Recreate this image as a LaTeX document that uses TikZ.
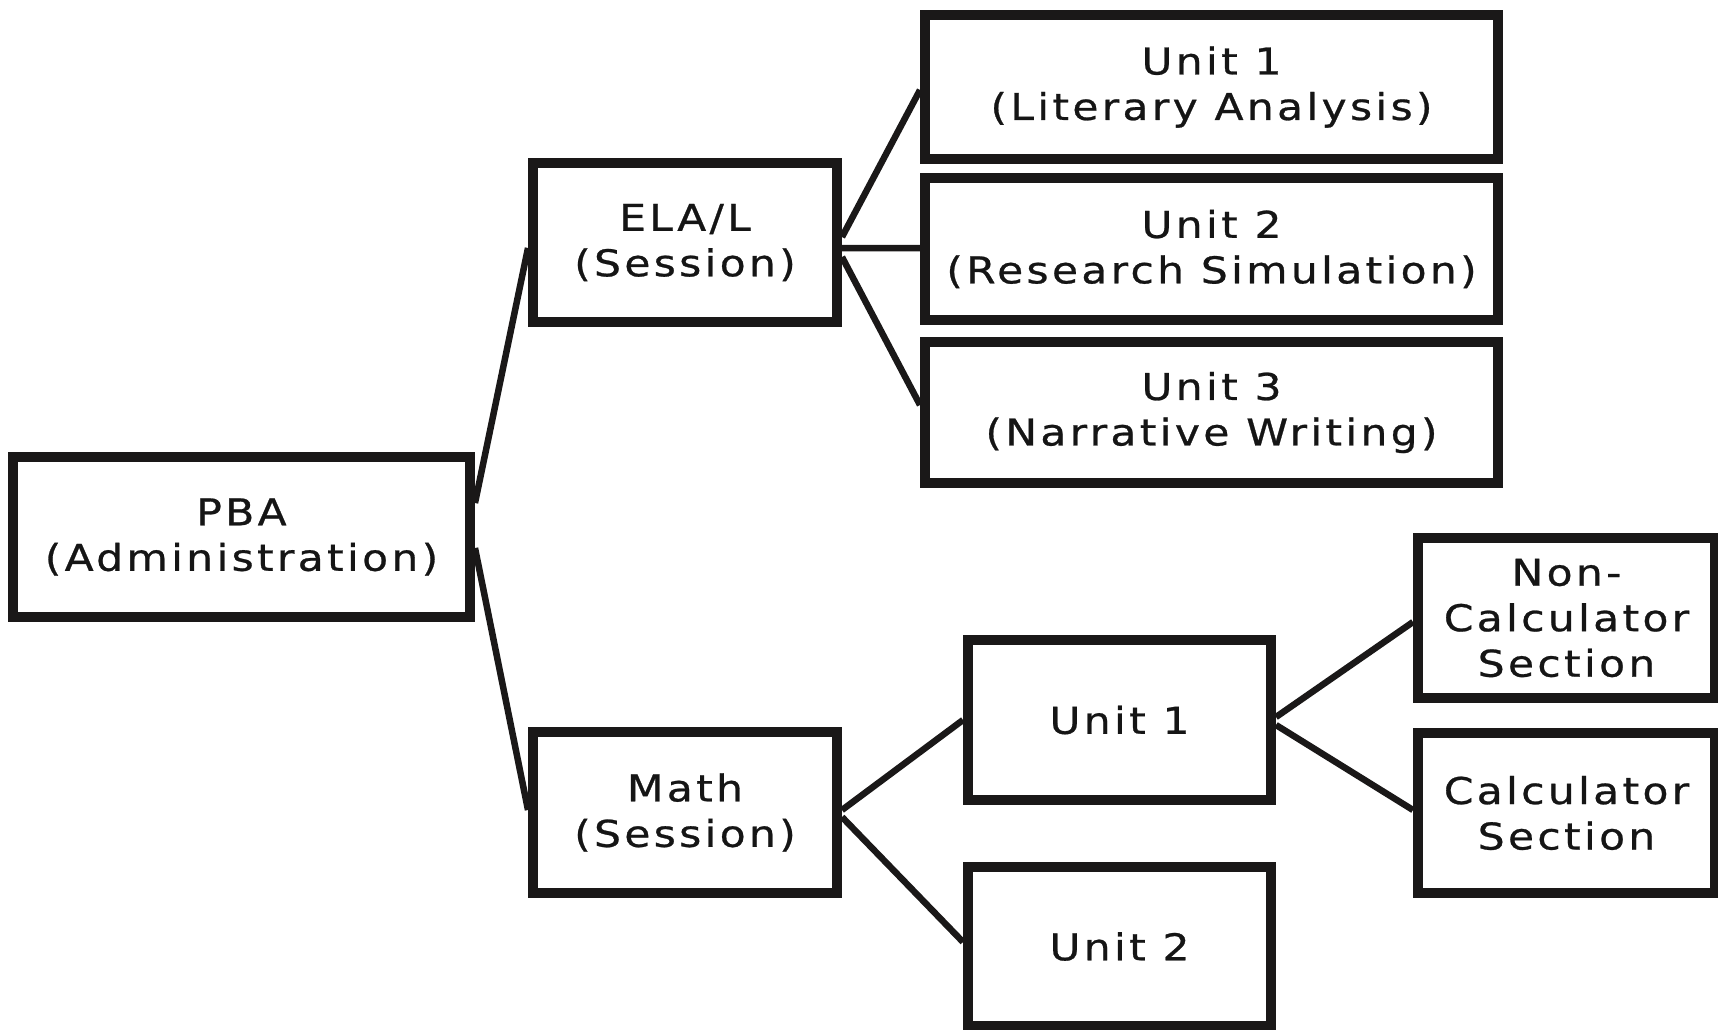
\documentclass[tikz,border=0pt]{standalone}
\usepackage{fontspec}
\setmainfont{DejaVu Sans}[LetterSpace=9, FakeStretch=1.15, FakeBold=0.7]
\usetikzlibrary{calc}
\definecolor{ink}{HTML}{1A1818}
\definecolor{txt}{HTML}{151515}
\begin{document}
\begin{tikzpicture}[x=0.02cm,y=-0.02cm,
  box/.style={draw=ink, line width=0.2cm, fill=white, inner sep=0pt, outer sep=0.1cm,
    align=center, text=txt, font=\fontsize{21}{25.9}\selectfont},
  conn/.style={draw=ink, line width=0.13cm, line cap=butt}]
\useasboundingbox[fill=white] (0,0) rectangle (1718,1029);
% nodes: minimum size = outer size - border width (10px)
\node[box, minimum width=457*0.02cm, minimum height=160*0.02cm] (pba) at (241.5,537) {PBA\\(Administration)};
\node[box, minimum width=304*0.02cm, minimum height=159*0.02cm] (ela) at (685,242.5) {ELA/L\\(Session)};
\node[box, minimum width=304*0.02cm, minimum height=161*0.02cm] (math) at (685,812.5) {Math\\(Session)};
\node[box, minimum width=573*0.02cm, minimum height=144*0.02cm] (u1) at (1211.5,87) {Unit 1\\(Literary Analysis)};
\node[box, minimum width=573*0.02cm, minimum height=142*0.02cm] (u2) at (1211.5,249) {Unit 2\\(Research Simulation)};
\node[box, minimum width=573*0.02cm, minimum height=141*0.02cm] (u3) at (1211.5,412.5) {Unit 3\\(Narrative Writing)};
\node[box, minimum width=303*0.02cm, minimum height=160*0.02cm] (mu1) at (1119.5,720) {Unit 1};
\node[box, minimum width=303*0.02cm, minimum height=159*0.02cm] (mu2) at (1119.5,946.5) {Unit 2};
\node[box, minimum width=297*0.02cm, minimum height=160*0.02cm] (nc) at (1566.5,618) {Non-\\Calculator\\Section};
\node[box, minimum width=297*0.02cm, minimum height=160*0.02cm] (calc) at (1566.5,813) {Calculator\\Section};
% connectors
\draw[conn] ($(pba.east)+(0,-34)$) -- ($(ela.west)+(0,5.5)$);
\draw[conn] ($(pba.east)+(0,11)$) -- ($(math.west)+(0,-2.5)$);
\draw[conn] ($(ela.east)+(0,-5.5)$) -- ($(u1.west)+(0,3)$);
\draw[conn] ($(ela.east)+(0,5.5)$) -- ($(u2.west)+(0,-1)$);
\draw[conn] ($(ela.east)+(0,14.5)$) -- ($(u3.west)+(0,-7.5)$);
\draw[conn] ($(math.east)+(0,-2.5)$) -- (mu1.west);
\draw[conn] ($(math.east)+(0,4.5)$) -- ($(mu2.west)+(0,-4.5)$);
\draw[conn] ($(mu1.east)+(0,-3)$) -- ($(nc.west)+(0,4)$);
\draw[conn] ($(mu1.east)+(0,5)$) -- ($(calc.west)+(0,-3)$);
\end{tikzpicture}
\end{document}
